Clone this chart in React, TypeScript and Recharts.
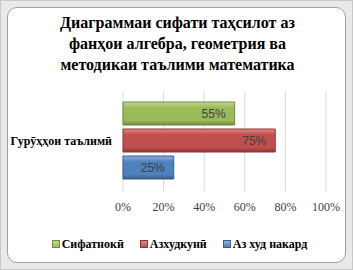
import React from "react";
import { BarChart, Bar, XAxis, YAxis, CartesianGrid, Legend, LabelList } from "recharts";

const categories = ["Гурӯҳҳои таълимӣ"];
const seriesNames = ["Сифатнокӣ", "Азхудкунӣ", "Аз худ накард"];
const qualityValues = [55];
const masteryValues = [75];
const notMasteredValues = [25];
const xTicks = [0, 20, 40, 60, 80, 100];
const titleLines = [
  "Диаграммаи сифати таҳсилот аз",
  "фанҳои алгебра, геометрия ва",
  "методикаи таълими математика",
];

const data = categories.map((c, i) => ({
  name: c,
  s0: qualityValues[i],
  s1: masteryValues[i],
  s2: notMasteredValues[i],
}));

const colors = [
  { base: "#9BBB59", light: "#C3DA8E", dark: "#71893F" },
  { base: "#C0504D", light: "#E08A88", dark: "#8C3836" },
  { base: "#4F81BD", light: "#8DB3E2", dark: "#385D8A" },
];

const serif = "'Liberation Serif', 'DejaVu Serif', serif";
const sans = "'Liberation Sans', 'Open Sans', sans-serif";

const YTick = (props: any) => {
  const { x, y, payload } = props;
  return (
    <text
      x={x}
      y={y}
      dy={4}
      textAnchor="end"
      fontFamily={serif}
      fontWeight="bold"
      fontSize={12}
      fill="#000"
    >
      {payload.value}
    </text>
  );
};

const XTick = (props: any) => {
  const { x, y, payload } = props;
  return (
    <text
      x={x}
      y={y}
      dy={10}
      textAnchor="middle"
      fontFamily={serif}
      fontSize={12}
      fill="#404040"
    >
      {`${payload.value}%`}
    </text>
  );
};

const LegendContent = () => (
  <div
    style={{
      display: "flex",
      justifyContent: "center",
      alignItems: "center",
      height: 20,
      fontFamily: serif,
      fontWeight: "bold",
      fontSize: 12,
      color: "#000",
      paddingLeft: 4,
    }}
  >
    {seriesNames.map((n, i) => (
      <div key={n} style={{ display: "flex", alignItems: "center", marginRight: i < 2 ? 16 : 0 }}>
        <span
          style={{
            display: "inline-block",
            width: 6,
            height: 6,
            background: `linear-gradient(${colors[i].light}, ${colors[i].base})`,
            border: `1px solid ${colors[i].dark}`,
            marginRight: 2,
          }}
        />
        <span>{n}</span>
      </div>
    ))}
  </div>
);

export default function App() {
  return (
    <div
      style={{
        position: "absolute",
        left: 0,
        top: 0,
        width: 353,
        height: 270,
        background: "#e9e9e9",
        boxSizing: "border-box",
        border: "1px solid #c8c8c8",
      }}
    >
      <div
        style={{
          position: "absolute",
          left: 6,
          top: 6,
          width: 339,
          height: 256,
          background: "#fff",
          border: "1px solid #a0a0a0",
          borderRadius: 10,
          boxSizing: "border-box",
        }}
      />
      <div
        style={{
          position: "absolute",
          left: 0,
          top: 11,
          width: 353,
          textAlign: "center",
          fontFamily: serif,
          fontWeight: "bold",
          fontSize: 16,
          lineHeight: "21px",
          color: "#000",
        }}
      >
        {titleLines.map((l, i) => (
          <div key={i}>{l}</div>
        ))}
      </div>
      <div style={{ position: "absolute", left: 0, top: 0 }}>
        <BarChart
          width={353}
          height={270}
          data={data}
          layout="vertical"
          margin={{ top: 90, right: 28, bottom: 30, left: 0 }}
          barCategoryGap={11}
          barGap={4}
        >
          <defs>
            {colors.map((c, i) => (
              <linearGradient key={i} id={`g${i}`} x1="0" y1="0" x2="0" y2="1">
                <stop offset="0%" stopColor={c.light} />
                <stop offset="25%" stopColor={c.base} />
                <stop offset="80%" stopColor={c.base} />
                <stop offset="100%" stopColor={c.dark} />
              </linearGradient>
            ))}
          </defs>
          <CartesianGrid horizontal={false} stroke="#d9d9d9" />
          <XAxis
            type="number"
            domain={[0, 100]}
            ticks={xTicks}
            axisLine={false}
            tickLine={false}
            height={30}
            tick={<XTick />}
            tickMargin={4}
          />
          <YAxis
            type="category"
            dataKey="name"
            width={122}
            axisLine={false}
            tickLine={false}
            tick={<YTick />}
            tickMargin={5}
          />
          <Legend
            content={<LegendContent />}
            height={20}
            wrapperStyle={{ position: "absolute", top: 233, left: 0, width: 353, bottom: "auto" }}
          />
          {["s0", "s1", "s2"].map((k, i) => (
            <Bar
              key={k}
              dataKey={k}
              name={seriesNames[i]}
              fill={`url(#g${i})`}
              stroke={colors[i].dark}
              strokeWidth={1}
              isAnimationActive={false}
            >
              <LabelList
                dataKey={k}
                position="insideRight"
                offset={9}
                formatter={(v: number) => `${v}%`}
                style={{ fontSize: 12, fill: "#404040", fontFamily: sans }}
              />
            </Bar>
          ))}
        </BarChart>
      </div>
    </div>
  );
}
